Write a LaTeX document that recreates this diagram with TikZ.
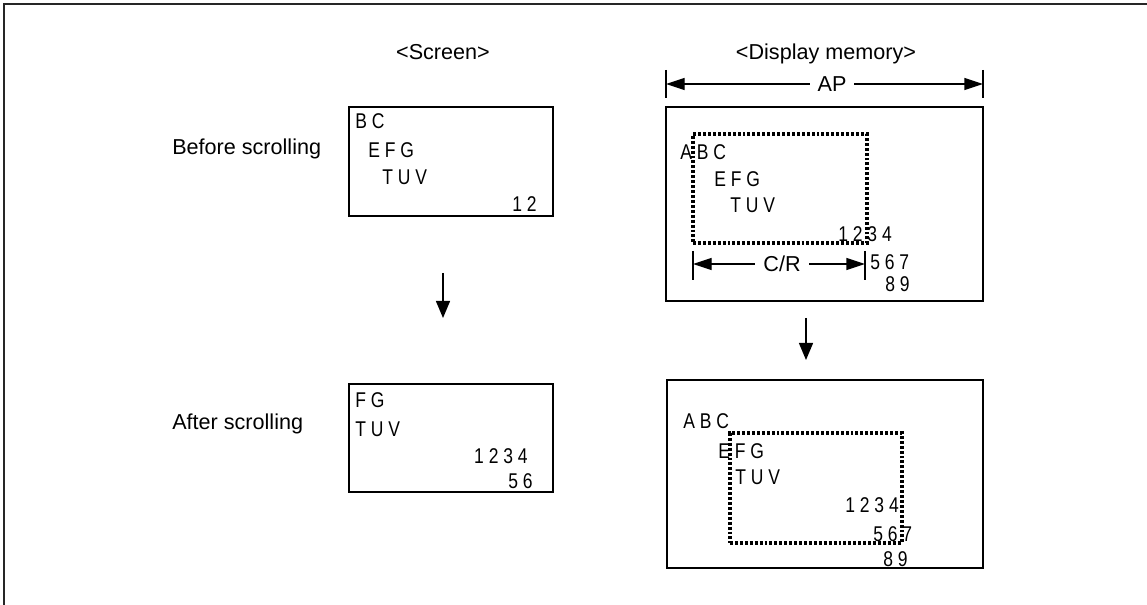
\documentclass[tikz,border=0pt]{standalone}
\usepackage{fontspec}
\setmainfont{Liberation Sans}
\newfontfamily\boxfont[FakeStretch=0.82]{Liberation Sans}
\usetikzlibrary{arrows.meta,fit}
\begin{document}
\begin{tikzpicture}[x=0.75pt,y=-0.75pt,
  lbl/.style={font=\fontsize{16.2}{19}\selectfont, inner sep=0},
  txt/.style={font=\boxfont\fontsize{16}{19}\selectfont, inner sep=0},
  boxframe/.style={draw, line width=1.2pt, inner sep=0},
  dotbox/.style={draw, line width=2.4pt, dash pattern=on 2.2pt off 1.5pt, inner sep=0},
  downarr/.style={-{Triangle[length=12.75pt,width=10.5pt]}, line width=1pt},
  dimarr/.style={{Triangle[length=14pt,width=9pt]}-{Triangle[length=14pt,width=9pt]}, line width=1pt},
  tick/.style={line width=1.2pt}
]
\useasboundingbox (0,0) rectangle (1147,605);
\draw[line width=1.5pt, draw=black!85] (1147,4.5) -- (4,4.5) -- (4,605);

% headings
\node[lbl, anchor=base] (hScreen) at (443,60) {<Screen>};
\node[lbl, anchor=base] (hMem) at (826,60) {<Display memory>};
\node[lbl, anchor=base west] (lBefore) at (172,155) {Before scrolling};
\node[lbl, anchor=base west] (lAfter) at (172,430) {After scrolling};

% screen before
\node[boxframe, fit={(349,107)(553,216)}] (sb) {};
\node[txt, anchor=base west] (sb1) at (355,129) {B C};
\node[txt, anchor=base west] (sb2) at (368,158) {E F G};
\node[txt, anchor=base west] (sb3) at (382,185) {T U V};
\node[txt, anchor=base east] (sb4) at (537,212) {1 2};

% screen after
\node[boxframe, fit={(349,384)(553,492)}] (sa) {};
\node[txt, anchor=base west] (sa1) at (355,408) {F G};
\node[txt, anchor=base west] (sa2) at (355,437) {T U V};
\node[txt, anchor=base east] (sa3) at (528,464) {1 2 3 4};
\node[txt, anchor=base east] (sa4) at (533,489) {5 6};

% memory before
\node[boxframe, fit={(666,107)(983,301)}] (mb) {};
\node[dotbox, fit={(693,134)(867,243)}] (mbw) {};
\node[txt, anchor=base west] (mb1) at (680,160) {A B C};
\node[txt, anchor=base west] (mb2) at (714,187) {E F G};
\node[txt, anchor=base west] (mb3) at (730,213) {T U V};
\node[txt, anchor=base west] (mb4) at (838,242) {1 2 3 4};
\node[txt, anchor=base west] (mb5) at (870,270) {5 6 7};
\node[txt, anchor=base west] (mb6) at (885,292) {8 9};

% memory after
\node[boxframe, fit={(667,380)(983,568)}] (ma) {};
\node[dotbox, fit={(730,433)(902,543)}] (maw) {};
\node[txt, anchor=base west] (ma1) at (683,429) {A B C};
\node[txt, anchor=base west] (ma2) at (718,459) {E F G};
\node[txt, anchor=base west] (ma3) at (735,485) {T U V};
\node[txt, anchor=base west] (ma4) at (845,513) {1 2 3 4};
\node[txt, anchor=base west] (ma5) at (873,542) {5 6 7};
\node[txt, anchor=base west] (ma6) at (883,567) {8 9};

% AP dimension
\coordinate (apLt) at (666,70); \coordinate (apLb) at (666,98);
\coordinate (apRt) at (983,70); \coordinate (apRb) at (983,98);
\coordinate (apL) at (666,84); \coordinate (apR) at (983,84);
\draw[tick] (apLt) -- (apLb);
\draw[tick] (apRt) -- (apRb);
\draw[dimarr] (apL) -- (apR);
\node[lbl, fill=white, inner xsep=6pt, inner ysep=1pt] (ap) at (832,84) {AP};

% C/R dimension
\coordinate (crLt) at (693,251); \coordinate (crLb) at (693,280);
\coordinate (crRt) at (865,251); \coordinate (crRb) at (865,280);
\coordinate (crL) at (693,264); \coordinate (crR) at (865,264);
\draw[tick] (crLt) -- (crLb);
\draw[tick] (crRt) -- (crRb);
\draw[dimarr] (crL) -- (crR);
\node[lbl, fill=white, inner xsep=6pt, inner ysep=1pt] (cr) at (782,264) {C/R};

% down arrows
\coordinate (d1s) at (443,273); \coordinate (d1e) at (443,318);
\coordinate (d2s) at (806,318); \coordinate (d2e) at (806,360);
\draw[downarr] (d1s) -- (d1e);
\draw[downarr] (d2s) -- (d2e);
\end{tikzpicture}
\end{document}
